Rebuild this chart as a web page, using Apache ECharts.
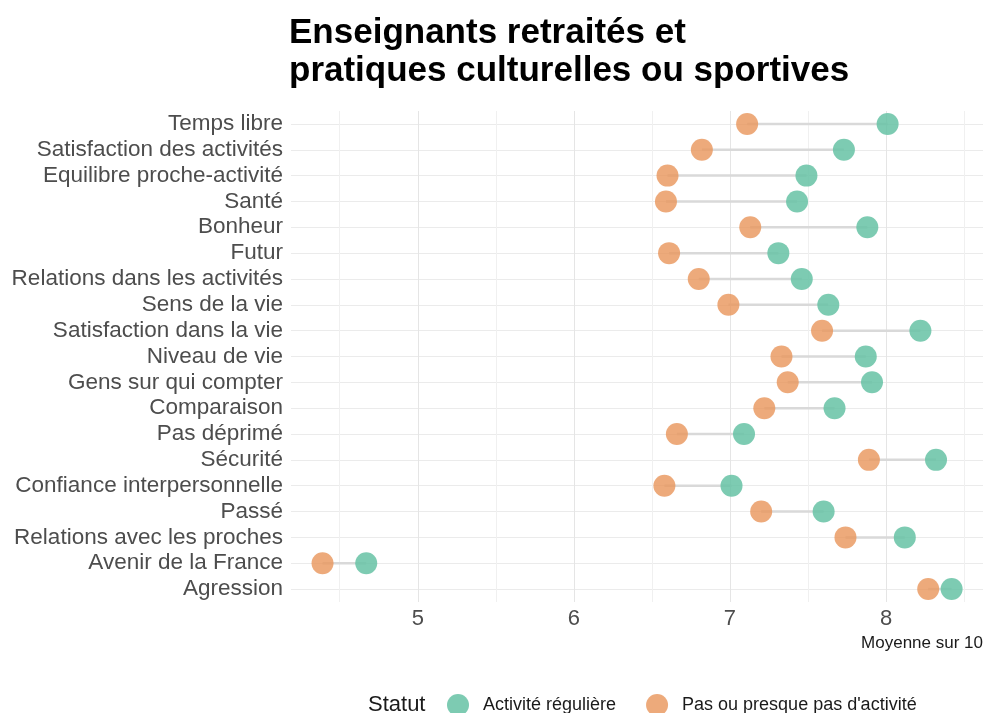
<!DOCTYPE html>
<html>
<head>
<meta charset="utf-8">
<script src="https://cdn.jsdelivr.net/npm/echarts@6/dist/echarts.min.js"></script>
<style>
  html, body { margin: 0; padding: 0; background: #fff; }
  #chart { width: 986px; height: 713px; }
</style>
</head>
<body>
<div id="chart"></div>
<script>
// items, top to bottom
const categories = [
  'Temps libre', 'Satisfaction des activités', 'Equilibre proche-activité', 'Santé',
  'Bonheur', 'Futur', 'Relations dans les activités', 'Sens de la vie',
  'Satisfaction dans la vie', 'Niveau de vie', 'Gens sur qui compter', 'Comparaison',
  'Pas déprimé', 'Sécurité', 'Confiance interpersonnelle', 'Passé',
  'Relations avec les proches', 'Avenir de la France', 'Agression'
]
// Activité régulière
const active = [8.01, 7.73, 7.49, 7.43, 7.88, 7.31, 7.46, 7.63, 8.22, 7.87,
  7.91, 7.67, 7.09, 8.32, 7.01, 7.60, 8.12, 4.67, 8.42]
// Pas ou presque pas d'activité
const inactive = [7.11, 6.82, 6.60, 6.59, 7.13, 6.61, 6.80, 6.99, 7.59, 7.33,
  7.37, 7.22, 6.66, 7.89, 6.58, 7.20, 7.74, 4.39, 8.27]

const seriesNames = ['Activité régulière', "Pas ou presque pas d'activité"]
const FONT = '"Liberation Sans", Arial, sans-serif'

// ggplot style 5% expansion of the x range
const all = active.concat(inactive)
const lo = Math.min(...all)
const hi = Math.max(...all)
const pad = (hi - lo) * 0.05
const xMin = +(lo - pad).toFixed(3)
const xMax = +(hi + pad).toFixed(3)

const chart = echarts.init(document.getElementById('chart'))

const option = {
  backgroundColor: '#fff',
  textStyle: { fontFamily: FONT },
  animation: false,
  title: [
    {
      text: 'Enseignants retraités et\npratiques culturelles ou sportives',
      left: 289,
      top: 14,
      padding: 0,
      textStyle: { fontFamily: FONT, fontSize: 35, fontWeight: 'bold', color: '#000', lineHeight: 38 },
    },
    {
      text: 'Statut',
      left: 368,
      top: 694,
      padding: 0,
      textStyle: { fontFamily: FONT, fontSize: 22, fontWeight: 'normal', color: '#1a1a1a' },
    },
  ],
  legend: {
    data: seriesNames,
    left: 447,
    top: 694,
    padding: 0,
    icon: 'circle',
    itemWidth: 22,
    itemHeight: 22,
    itemGap: 30,
    textStyle: { fontFamily: FONT, fontSize: 18, color: '#1a1a1a', padding: [0, 0, 0, 9] },
  },
  grid: { left: 291, right: 3, top: 111, height: 491, containLabel: false },
  xAxis: {
    type: 'value',
    min: xMin,
    max: xMax,
    name: 'Moyenne sur 10',
    nameLocation: 'end',
    nameGap: 0,
    nameTextStyle: { fontFamily: FONT, fontSize: 17, color: '#1a1a1a', align: 'right', verticalAlign: 'top', padding: [33, 0, 0, 0] },
    axisLine: { show: false },
    axisTick: { show: false },
    axisLabel: { fontFamily: FONT, fontSize: 22, color: '#4d4d4d', margin: 6, showMinLabel: false, showMaxLabel: false },
    splitLine: { show: true, showMinLine: false, showMaxLine: false, lineStyle: { color: '#e5e5e5', width: 1 } },
    minorTick: { show: false, splitNumber: 2 },
    minorSplitLine: { show: true, lineStyle: { color: '#f0f0f0', width: 1 } },
  },
  yAxis: {
    type: 'category',
    data: categories,
    inverse: true,
    axisLine: { show: false },
    axisTick: { show: false },
    axisLabel: { fontFamily: FONT, fontSize: 22.5, color: '#4d4d4d', margin: 8, interval: 0 },
    splitLine: { show: true, interval: 0, alignWithLabel: true, lineStyle: { color: '#ebebeb', width: 1 } },
  },
  series: [
    {
      type: 'custom',
      silent: true,
      encode: { x: [1, 2], y: 0 },
      data: categories.map((c, i) => [i, inactive[i], active[i]]),
      renderItem: (params, api) => {
        const a = api.coord([api.value(1), api.value(0)])
        const b = api.coord([api.value(2), api.value(0)])
        return {
          type: 'line',
          shape: { x1: a[0], y1: a[1], x2: b[0], y2: b[1] },
          style: { stroke: '#d9d9d9', lineWidth: 2.5 },
        }
      },
      z: 1,
    },
    {
      name: seriesNames[1],
      type: 'scatter',
      data: inactive.map((v, i) => [v, i]),
      symbol: 'circle',
      symbolSize: 22,
      itemStyle: { color: '#E9955A', opacity: 0.8 },
      z: 2,
    },
    {
      name: seriesNames[0],
      type: 'scatter',
      data: active.map((v, i) => [v, i]),
      symbol: 'circle',
      symbolSize: 22,
      itemStyle: { color: '#66C2A5', opacity: 0.85 },
      z: 3,
    },
  ],
}

chart.setOption(option)
window.addEventListener('resize', () => chart.resize())
</script>
</body>
</html>
